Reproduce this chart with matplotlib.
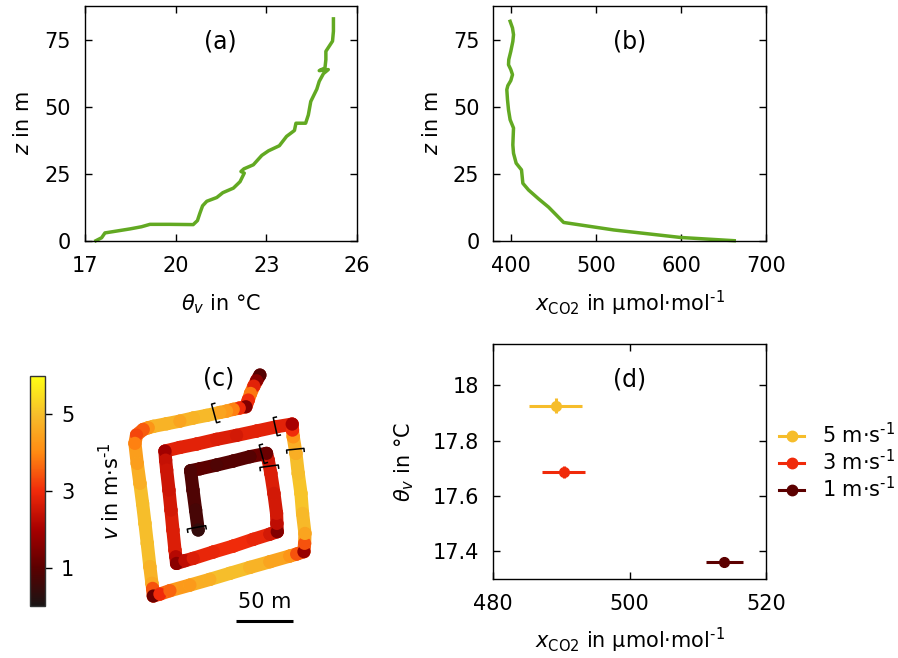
import numpy as np
import matplotlib
matplotlib.use('Agg')
from matplotlib import pyplot as plt
from matplotlib.collections import LineCollection
from matplotlib.colors import LinearSegmentedColormap, Normalize
from matplotlib.cm import ScalarMappable
from matplotlib.lines import Line2D

# (a) temperature profile
thetaA = [17.36,17.55,17.66,18.05,18.49,18.87,19.15,19.81,20.58,20.72,20.80,20.89,21.03,21.36,21.56,21.91,22.13,22.27,22.16,22.26,22.57,22.85,23.07,23.43,23.67,23.93,23.98,24.30,24.39,24.47,24.67,24.75,24.89,25.05,24.75,24.94,24.97,24.97,25.19,25.22,25.22]
zA = [0,1.1,2.9,3.6,4.4,5.2,6.1,6.1,6.0,7.5,10.2,13.0,14.7,16.1,17.9,19.6,22.0,25.2,25.8,26.8,28.3,31.8,33.5,35.4,38.9,41.1,43.8,43.8,46.9,51.9,56.5,59.4,62.3,63.8,63.4,64.4,67.5,70.6,74.4,78.1,82.7]

# (b) CO2 profile
co2B = [398.8,401.6,402.8,402.0,399.6,397.2,396.9,399.6,401.6,399.6,396.1,394.9,395.7,396.9,398.8,402.8,402.4,402.0,402.8,405.9,412.2,413.0,413.8,420.5,432.3,444.1,461.8,520.9,599.6,662.6]
zB = [81.8,79.3,76.8,74.3,70.6,67.5,65.6,63.8,61.9,59.7,57.8,56.3,52.6,48.8,45.1,42.0,38.9,35.7,32.6,28.9,26.4,23.9,21.4,18.9,15.6,12.5,6.8,4.0,1.2,0]

# (c) flight track in metres, with wind speed
trackX = [122.7,119.8,117.4,114.5,112.5,110.4,104.6,99.3,93.5,87.6,75.9,64.2,52.5,40.9,29.2,24.8,20.4,14.5,13.1,15.1,17.5,19.8,21.9,23.9,26.2,28.0,28.6,29.2,35.0,43.8,61.3,78.8,96.4,113.9,131.5,149.0,154.9,161.3,161.9,162.2,160.1,158.7,156.3,154.3,151.9,151.3,151.0,137.3,119.8,102.2,84.7,67.2,52.5,39.4,40.0,40.9,42.9,44.7,46.4,48.2,49.0,49.6,56.9,64.2,81.8,99.3,116.8,131.5,137.9,137.6,137.3,135.0,132.3,130.0,128.5,113.9,99.3,84.7,70.1,61.9,64.0,66.3,68.6]
trackY = [206.1,201.1,196.4,190.0,184.2,178.3,177.1,176.0,174.5,173.3,170.7,168.4,165.7,163.4,161.1,159.9,158.4,153.5,146.2,128.6,111.1,93.5,76.0,58.5,38.0,23.4,19.0,12.3,14.0,17.0,21.9,26.9,32.2,37.4,42.4,47.4,49.1,51.2,58.5,67.2,84.8,102.3,119.8,137.4,152.0,157.8,163.1,160.8,157.0,153.2,149.7,145.6,142.6,139.4,131.5,122.8,105.2,87.7,70.2,52.6,46.8,40.9,43.3,45.3,50.9,56.1,62.0,66.6,68.7,76.0,84.8,102.3,119.8,131.5,137.4,134.5,130.7,127.2,123.9,122.2,105.2,87.7,70.2]
trackV = [0.9,1.6,2.8,3.8,3.0,1.5,3.0,3.9,4.3,4.5,4.9,4.8,4.5,4.8,4.8,4.2,3.5,3.3,3.9,4.4,4.7,5.0,5.0,5.0,4.8,4.6,3.4,1.2,3.0,3.6,4.3,4.7,5.0,4.8,4.5,4.2,3.4,1.8,3.4,4.5,4.9,5.1,5.0,4.7,4.2,3.0,2.0,2.8,2.8,2.6,2.7,2.8,2.8,1.9,2.4,2.5,2.5,2.6,2.7,2.7,2.2,1.6,2.3,2.7,2.9,3.0,2.9,2.6,1.5,2.3,2.6,2.6,2.7,2.5,1.2,0.9,0.9,0.8,1.0,0.8,0.8,0.7,0.4]

# brackets marking averaging segments: end A, end B of each stem
bracketAX = [80.3,134.4,146.1,122.1,122.7,59.0]
bracketAY = [180.6,168.7,140.3,144.7,125.1,71.0]
bracketBX = [84.7,137.9,161.3,126.5,138.8,75.1]
bracketBY = [164.3,152.9,141.8,128.6,127.2,74.0]

# (d) means and spread
dLabels = [r'5 m·s$^{\text{-1}}$',r'3 m·s$^{\text{-1}}$',r'1 m·s$^{\text{-1}}$']
dCo2 = [489.2,490.3,513.9]
dCo2Low = [485.3,487.1,511.2]
dCo2High = [493.0,493.5,516.6]
dTheta = [17.926,17.687,17.36]
dThetaErr = [0.027,0.022,0.018]
dColors = ['#f6bd2b','#f02a0a','#5c0000']

green = '#62a922'
W,H = 898,658

plt.rcParams['font.family'] = 'DejaVu Sans'
plt.rcParams['font.size'] = 15
plt.rcParams['mathtext.fontset'] = 'dejavusans'
plt.rcParams['mathtext.default'] = 'regular'
plt.rcParams['axes.linewidth'] = 1.0

fig = plt.figure(figsize=(W/100,H/100),dpi=100)

def axPx(left,top,right,bottom):
	return fig.add_axes([left/W,1-bottom/H,(right-left)/W,(bottom-top)/H])

def styleAx(ax):
	ax.tick_params(direction='in',top=True,right=True,length=5,width=1,labelsize=15)
	ax.tick_params(axis='x',pad=11)
	ax.tick_params(axis='y',pad=10)

xLabelCo2 = r'$\mathit{x}_{CO2}$ in µmol·mol$^{\text{-1}}$'
thetaLabel = r'$\mathit{\theta_{v}}$ in °C'
zLabel = r'$\mathit{z}$ in m'

axA = axPx(85,6,357,240.7)
axA.plot(thetaA,zA,color=green,lw=2.5,clip_on=False,solid_joinstyle='round')
axA.set_xlim(17,26)
axA.set_ylim(0,87.5)
axA.set_xticks([17,20,23,26])
axA.set_yticks([0,25,50,75])
axA.set_xlabel(thetaLabel,fontsize=15,labelpad=12)
axA.set_ylabel(zLabel,fontsize=15,labelpad=8)
styleAx(axA)

axB = axPx(493.3,6,766,240.7)
axB.plot(co2B,zB,color=green,lw=2.5,clip_on=False,solid_joinstyle='round')
axB.set_xlim(379,700)
axB.set_ylim(0,87.5)
axB.set_xticks([400,500,600,700])
axB.set_yticks([0,25,50,75])
axB.set_xlabel(xLabelCo2,fontsize=15,labelpad=9)
axB.set_ylabel(zLabel,fontsize=15,labelpad=8)
styleAx(axB)

axD = axPx(493.3,344,766,579)
handles = []
for i in range(3):
	axD.errorbar(dCo2[i],dTheta[i],
		xerr=[[dCo2[i]-dCo2Low[i]],[dCo2High[i]-dCo2[i]]],yerr=dThetaErr[i],
		fmt='o',ms=7,color=dColors[i],lw=2.2)
	handles.append(Line2D([],[],color=dColors[i],lw=2.2,marker='o',ms=7.5,label=dLabels[i]))
axD.set_xlim(480,520)
axD.set_ylim(17.3,18.15)
axD.set_xticks([480,500,520])
axD.set_yticks([17.4,17.6,17.8,18])
axD.set_yticklabels(['17.4','17.6','17.8','18'])
axD.set_xlabel(xLabelCo2,fontsize=15,labelpad=8)
axD.set_ylabel(thetaLabel,fontsize=15,labelpad=12)
styleAx(axD)
fig.legend(handles=handles,loc='center left',bbox_to_anchor=(779/W,1-461.5/H),frameon=False,fontsize=15,
	handlelength=1.2,handletextpad=0.85,labelspacing=0.1,borderpad=0,borderaxespad=0)

# wind speed colours
vCmap = LinearSegmentedColormap.from_list('wind',[(0,'#1a1414'),(1/6,'#5c0000'),(2/6,'#a80000'),(0.5,'#f02a0a'),(4/6,'#ff8a12'),(5/6,'#f6bd2b'),(1,'#ffff14')])
vNorm = Normalize(0,6)

axC = axPx(120,360,320,630)
axC.set_xlim(0,175.4)
axC.set_ylim(-17.5,219.3)
axC.axis('off')
pts = np.column_stack([trackX,trackY])
segs = np.stack([pts[:-1],pts[1:]],axis=1)
segV = np.maximum(trackV[:-1],trackV[1:])
axC.add_collection(LineCollection(segs,colors=vCmap(vNorm(segV)),linewidths=9.5,capstyle='round'))
axC.scatter(trackX,trackY,c=trackV,cmap=vCmap,norm=vNorm,s=90,linewidths=0,clip_on=False,zorder=3)
# brackets
hook = 0.17
for i in range(len(bracketAX)):
	a = np.array([bracketAX[i],bracketAY[i]])
	b = np.array([bracketBX[i],bracketBY[i]])
	d = b-a
	n = np.array([d[1],-d[0]])*hook
	if i in (0,1,3):
		n = -n
	line = np.array([a+n,a,b,b+n])
	axC.plot(line[:,0],line[:,1],color='black',lw=1.1,zorder=4,clip_on=False)
axC.plot([101.7,151.7],[-10,-10],color='black',lw=2.2,solid_capstyle='butt')
axC.text(126.7,-1.5,'50 m',ha='center',va='bottom',fontsize=15)

cax = axPx(29.5,376,44.5,606)
cb = fig.colorbar(ScalarMappable(norm=vNorm,cmap=vCmap),cax=cax)
cb.set_ticks([1,3,5])
cb.ax.tick_params(length=5,width=1,labelsize=15,pad=7)
cb.outline.set_edgecolor('#333333')
cb.set_label(r'$\mathit{v}$ in m·s$^{\text{-1}}$',fontsize=15,labelpad=17)

# panel letters
for s,x,y in [('(a)',220,41),('(b)',630,41),('(c)',219,378),('(d)',630,379)]:
	fig.text(x/W,1-y/H,s,ha='center',va='center',fontsize=17)

fig.savefig('out.png',dpi=100)
